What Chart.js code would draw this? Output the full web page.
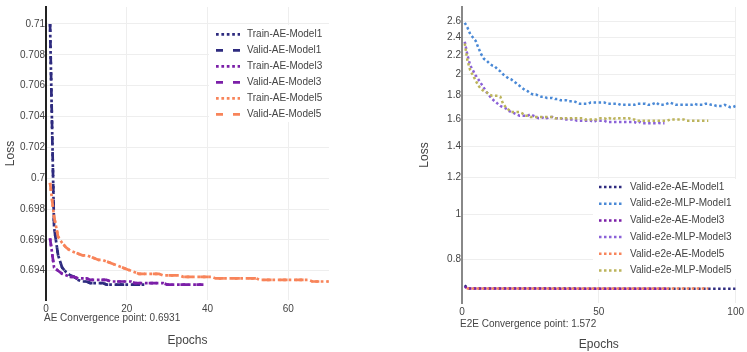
<!DOCTYPE html>
<html><head><meta charset="utf-8">
<script src="https://cdn.jsdelivr.net/npm/chart.js@4.4.0/dist/chart.umd.min.js"></script>
<style>
html,body{margin:0;padding:0;background:#fff;width:747px;height:352px;overflow:hidden;}
#c1{position:absolute;left:0;top:0;}
#c2{position:absolute;left:400px;top:0;}
</style></head><body>
<canvas id="c1" width="340" height="352"></canvas>
<canvas id="c2" width="347" height="352"></canvas>
<script>
// ---------------- DATA ----------------
// Left chart (AE): losses per epoch, starting at epoch 1
const trainAE1 = [0.7100,0.6968,0.6950,0.6942,0.6939,0.6937,0.6936,0.6934,0.6933,0.6933,0.6932,0.6932,0.6932,0.6932,0.6931,0.6931,0.6931,0.6931,0.6931,0.6931,0.6931,0.6931,0.6931,0.6931,0.6931];
const validAE1 = [0.7100,0.6968,0.6950,0.6942,0.6939,0.6937,0.6936,0.6934,0.6933,0.6933,0.6932,0.6932,0.6932,0.6932,0.6931,0.6931,0.6931,0.6931,0.6931,0.6931,0.6931,0.6931,0.6931,0.6931,0.6931];
const trainAE3 = [0.6961,0.6942,0.6940,0.6938,0.6937,0.6936,0.6936,0.6935,0.6935,0.6935,
                  0.6934,0.6934,0.6934,0.6934,0.6934,0.6933,0.6933,0.6933,0.6933,0.6933,
                  0.6933,0.6932,0.6932,0.6932,0.6932,0.6932,0.6932,0.6932,0.6932,0.6931,
                  0.6931,0.6931,0.6931,0.6931,0.6931,0.6931,0.6931,0.6931,0.6931];
const validAE3 = [0.6961,0.6942,0.6940,0.6938,0.6937,0.6936,0.6936,0.6935,0.6935,0.6935,
                  0.6934,0.6934,0.6934,0.6934,0.6934,0.6933,0.6933,0.6933,0.6933,0.6933,
                  0.6933,0.6932,0.6932,0.6932,0.6932,0.6932,0.6932,0.6932,0.6932,0.6931,
                  0.6931,0.6931,0.6931,0.6931,0.6931,0.6931,0.6931,0.6931,0.6931];
const trainAE5 = [0.6997,0.6975,0.6962,0.6958,0.6955,0.6953,0.6952,0.6951,0.6950,0.6950,
                  0.6949,0.6948,0.6947,0.6947,0.6946,0.6945,0.6944,0.6943,0.6942,0.6941,
                  0.6940,0.6939,0.6938,0.6938,0.6938,0.6938,0.6938,0.6938,0.6937,0.6937,
                  0.6937,0.6937,0.6937,0.6936,0.6936,0.6936,0.6936,0.6936,0.6936,0.6936,
                  0.6936,0.6935,0.6935,0.6935,0.6935,0.6935,0.6935,0.6935,0.6935,0.6935,
                  0.6935,0.6935,0.6934,0.6934,0.6934,0.6934,0.6934,0.6934,0.6934,0.6934,
                  0.6934,0.6934,0.6934,0.6934,0.6934,0.6933,0.6933,0.6933,0.6933,0.6933];
const validAE5 = [0.6997,0.6975,0.6962,0.6958,0.6955,0.6953,0.6952,0.6951,0.6950,0.6950,
                  0.6949,0.6948,0.6947,0.6947,0.6946,0.6945,0.6944,0.6943,0.6942,0.6941,
                  0.6940,0.6939,0.6938,0.6938,0.6938,0.6938,0.6938,0.6938,0.6937,0.6937,
                  0.6937,0.6937,0.6937,0.6936,0.6936,0.6936,0.6936,0.6936,0.6936,0.6936,
                  0.6936,0.6935,0.6935,0.6935,0.6935,0.6935,0.6935,0.6935,0.6935,0.6935,
                  0.6935,0.6935,0.6934,0.6934,0.6934,0.6934,0.6934,0.6934,0.6934,0.6934,
                  0.6934,0.6934,0.6934,0.6934,0.6934,0.6933,0.6933,0.6933,0.6933,0.6933];
const leftXTicks = [0, 20, 40, 60];
const leftYTicks = [0.694, 0.696, 0.698, 0.7, 0.702, 0.704, 0.706, 0.708, 0.71];
const leftNote = 'AE Convergence point: 0.6931';

// Right chart (E2E): validation losses
const e2eAE1Epochs = [1, 2, 100];
const e2eAE1 = [0.705, 0.6932, 0.6931];
const e2eAE3Epochs = [1, 2, 75];
const e2eAE3 = [0.700, 0.6932, 0.6931];
const e2eAE5Epochs = [1, 2, 90];
const e2eAE5 = [0.700, 0.6935, 0.6934];
const e2eMLP1 = [2.58,2.52,2.44,2.40,2.36,2.28,2.21,2.16,2.14,2.11,
                 2.09,2.08,2.05,2.03,2.00,1.98,1.96,1.95,1.93,1.91,
                 1.89,1.87,1.85,1.84,1.82,1.81,1.81,1.80,1.79,1.79,
                 1.78,1.78,1.78,1.77,1.77,1.76,1.76,1.76,1.75,1.75,
                 1.75,1.74,1.73,1.73,1.73,1.73,1.74,1.74,1.74,1.74,
                 1.74,1.74,1.73,1.73,1.73,1.73,1.73,1.72,1.72,1.72,
                 1.72,1.72,1.72,1.73,1.73,1.73,1.73,1.72,1.72,1.73,
                 1.74,1.72,1.72,1.72,1.73,1.74,1.73,1.72,1.72,1.72,
                 1.72,1.72,1.72,1.72,1.73,1.72,1.72,1.72,1.73,1.73,
                 1.72,1.72,1.71,1.71,1.71,1.72,1.71,1.70,1.70,1.71];
const e2eMLP3 = [2.35,2.20,2.09,2.04,1.99,1.95,1.91,1.87,1.83,1.80,
                 1.77,1.75,1.73,1.71,1.70,1.69,1.67,1.66,1.65,1.64,
                 1.63,1.63,1.63,1.63,1.64,1.63,1.62,1.61,1.61,1.62,
                 1.61,1.62,1.62,1.61,1.61,1.61,1.60,1.60,1.60,1.60,
                 1.60,1.59,1.59,1.59,1.59,1.59,1.59,1.58,1.59,1.59,
                 1.59,1.59,1.58,1.58,1.58,1.58,1.58,1.58,1.58,1.58,
                 1.58,1.58,1.58,1.57,1.58,1.57,1.57,1.57,1.57,1.57,
                 1.57,1.572,1.57,1.57];
const e2eMLP5 = [2.33,2.14,2.04,1.99,1.94,1.89,1.86,1.84,1.83,1.81,
                 1.80,1.80,1.80,1.79,1.73,1.70,1.68,1.66,1.66,1.66,
                 1.66,1.65,1.63,1.63,1.62,1.62,1.62,1.62,1.62,1.62,
                 1.62,1.62,1.62,1.61,1.61,1.61,1.61,1.61,1.61,1.61,
                 1.61,1.61,1.61,1.61,1.60,1.60,1.60,1.60,1.60,1.61,
                 1.61,1.61,1.60,1.61,1.60,1.61,1.61,1.61,1.61,1.61,
                 1.61,1.60,1.60,1.59,1.59,1.59,1.59,1.59,1.59,1.59,
                 1.59,1.59,1.59,1.59,1.59,1.60,1.60,1.60,1.60,1.60,
                 1.60,1.59,1.59,1.59,1.59,1.59,1.59,1.59,1.59,1.59];
const rightXTicks = [0, 50, 100];
const rightYTicks = [0.8, 1, 1.2, 1.4, 1.6, 1.8, 2, 2.2, 2.4, 2.6];
const rightNote = 'E2E Convergence point: 1.572';

// ---------------- STYLE / HELPERS ----------------
const FONT = "'Liberation Sans', Arial, sans-serif";
const TXT = '#444';
const NAVY = '#2e2b7f', PURPLE = '#7b1fa8', ORANGE = '#f8845a';
const BLUE = '#4a89d6', VIOLET = '#8b62d8', OLIVE = '#bcb45c';

function perEpoch(vals) { return vals.map((v, i) => ({x: i + 1, y: v})); }
function pairs(ep, vals) { return ep.map((e, i) => ({x: e, y: vals[i]})); }

function overlay(cfg) {
  return {
    id: cfg.id,
    afterDatasetsDraw(chart) {
      const ctx = chart.ctx;
      ctx.save();
      ctx.fillStyle = '#fff';
      ctx.fillRect(cfg.box[0], cfg.box[1], cfg.box[2], cfg.box[3]);
      chart.data.datasets.forEach((ds, i) => {
        const y = cfg.y0 + i * cfg.dy;
        ctx.beginPath();
        ctx.setLineDash(ds.legendDash || []);
        ctx.lineDashOffset = 0;
        ctx.lineCap = 'butt';
        ctx.strokeStyle = ds.borderColor;
        ctx.lineWidth = cfg.lw;
        ctx.moveTo(cfg.mx0, y);
        ctx.lineTo(cfg.mx1, y);
        ctx.stroke();
        ctx.setLineDash([]);
        ctx.fillStyle = TXT;
        ctx.font = '10px ' + FONT;
        ctx.textBaseline = 'middle';
        ctx.textAlign = 'left';
        ctx.fillText(ds.label, cfg.tx, y);
      });
      ctx.font = '10px ' + FONT;
      ctx.fillStyle = TXT;
      ctx.textBaseline = 'middle';
      ctx.textAlign = 'left';
      ctx.fillText(cfg.note, cfg.nx, cfg.ny);
      ctx.restore();
    }
  };
}

function ds(label, data, color, dash, width, legendDash, idx, n, offset) {
  return {
    label, data, borderColor: color, backgroundColor: color,
    borderWidth: width, borderDash: dash, borderDashOffset: offset || 0,
    legendDash, pointRadius: 0, pointHoverRadius: 0, fill: false, tension: 0,
    borderCapStyle: 'butt', order: n - idx
  };
}

Chart.defaults.font.family = FONT;
Chart.defaults.color = TXT;

// ---------------- LEFT CHART ----------------
const DOT = [2.7, 2.7], DASH = [8, 8], LDASH = [7, 10];
const lw = 2.7;
new Chart(document.getElementById('c1'), {
  type: 'line',
  data: {
    datasets: [
      ds('Train-AE-Model1', perEpoch(trainAE1), NAVY, DOT, lw, DOT, 0, 6),
      ds('Valid-AE-Model1', perEpoch(validAE1), NAVY, DASH, lw, LDASH, 1, 6),
      ds('Train-AE-Model3', perEpoch(trainAE3), PURPLE, DOT, lw, DOT, 2, 6),
      ds('Valid-AE-Model3', perEpoch(validAE3), PURPLE, DASH, lw, LDASH, 3, 6),
      ds('Train-AE-Model5', perEpoch(trainAE5), ORANGE, DOT, lw, DOT, 4, 6),
      ds('Valid-AE-Model5', perEpoch(validAE5), ORANGE, DASH, lw, LDASH, 5, 6)
    ]
  },
  options: {
    responsive: false, animation: false, devicePixelRatio: 1,
    layout: {padding: {top: 7, right: 11, bottom: 0, left: 0}},
    plugins: {legend: {display: false}, tooltip: {enabled: false}},
    scales: {
      x: {
        type: 'linear', min: 0, max: 70.1, bounds: 'data',
        afterBuildTicks: s => { s.ticks = leftXTicks.map(v => ({value: v})); s.min = 0; s.max = 70.1; },
        grid: {color: '#eee', lineWidth: 1, drawTicks: false},
        border: {display: false},
        ticks: {padding: 3, color: TXT, font: {size: 10}, maxRotation: 0, autoSkip: false},
        title: {display: true, text: 'Epochs', color: TXT, font: {size: 12}, padding: {top: 0, bottom: 4}},
        afterFit: s => { s.height = 52; }
      },
      y: {
        type: 'linear', min: 0.6921, max: 0.7111, bounds: 'data',
        afterBuildTicks: s => { s.ticks = leftYTicks.map(v => ({value: v})); s.min = 0.6921; s.max = 0.7111; },
        grid: {color: '#eee', lineWidth: 1, drawTicks: false},
        border: {display: true, color: '#222', width: 2},
        ticks: {padding: 1, color: TXT, font: {size: 10}, autoSkip: false,
                callback: v => String(+(+v).toFixed(3))},
        title: {display: true, text: 'Loss', color: TXT, font: {size: 12}, padding: {top: 3.6, bottom: 0}},
        afterFit: s => { s.width = 46; }
      }
    }
  },
  plugins: [overlay({id: 'ov1', box: [209, 25, 122, 97], y0: 34.3, dy: 16, lw: 2.7,
                     mx0: 216, mx1: 240, tx: 247, note: leftNote, nx: 44, ny: 318})]
});

// ---------------- RIGHT CHART ----------------
const RDOT = [2.5, 2.5];
const rw = 2.5;
new Chart(document.getElementById('c2'), {
  type: 'line',
  data: {
    datasets: [
      ds('Valid-e2e-AE-Model1', pairs(e2eAE1Epochs, e2eAE1), NAVY, RDOT, rw, RDOT, 0, 6),
      ds('Valid-e2e-MLP-Model1', perEpoch(e2eMLP1), BLUE, RDOT, rw, RDOT, 1, 6),
      ds('Valid-e2e-AE-Model3', pairs(e2eAE3Epochs, e2eAE3), PURPLE, RDOT, rw, RDOT, 2, 6),
      ds('Valid-e2e-MLP-Model3', perEpoch(e2eMLP3), VIOLET, RDOT, rw, RDOT, 3, 6),
      ds('Valid-e2e-AE-Model5', pairs(e2eAE5Epochs, e2eAE5), ORANGE, RDOT, rw, RDOT, 4, 6, 2.5),
      ds('Valid-e2e-MLP-Model5', perEpoch(e2eMLP5), OLIVE, RDOT, rw, RDOT, 5, 6)
    ]
  },
  options: {
    responsive: false, animation: false, devicePixelRatio: 1,
    layout: {padding: {top: 3, right: 10, bottom: 0, left: 0}},
    plugins: {legend: {display: false}, tooltip: {enabled: false}},
    scales: {
      x: {
        type: 'linear', min: 0, max: 100, bounds: 'data',
        afterBuildTicks: s => { s.ticks = rightXTicks.map(v => ({value: v})); s.min = 0; s.max = 100; },
        grid: {color: '#eee', lineWidth: 1, drawTicks: false},
        border: {display: false},
        ticks: {padding: 3, color: TXT, font: {size: 10}, maxRotation: 0, autoSkip: false},
        title: {display: true, text: 'Epochs', color: TXT, font: {size: 12}, padding: {top: 0, bottom: 0}},
        afterFit: s => { s.height = 49; }
      },
      y: {
        type: 'logarithmic', min: 0.6456, max: 2.79, bounds: 'data',
        afterBuildTicks: s => { s.ticks = rightYTicks.map(v => ({value: v})); s.min = 0.6456; s.max = 2.79; },
        grid: {color: '#eee', lineWidth: 1, drawTicks: false},
        border: {display: true, color: '#888', width: 2},
        ticks: {padding: 1, color: TXT, font: {size: 10}, autoSkip: false,
                callback: v => String(+(+v).toFixed(1))},
        title: {display: true, text: 'Loss', color: TXT, font: {size: 12}, padding: {top: 17.8, bottom: 0}},
        afterFit: s => { s.width = 62; }
      }
    }
  },
  plugins: [overlay({id: 'ov2', box: [193, 179, 154, 100], y0: 187, dy: 16.7, lw: 2.5,
                     mx0: 199, mx1: 223, tx: 230, note: rightNote, nx: 60, ny: 324})]
});
</script></body></html>
